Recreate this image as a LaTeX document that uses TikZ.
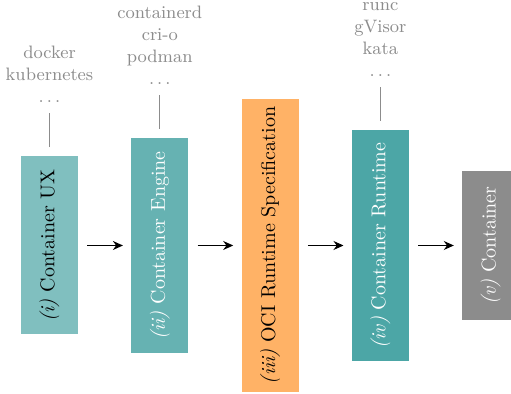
\documentclass[tikz,border=0pt]{standalone}
\usepackage{tikz}
\usepackage{graphicx}
\usetikzlibrary{positioning}
\usetikzlibrary{positioning, arrows.meta}

\tikzset{
    layer/.style={inner sep=0pt, minimum width=28.5pt, font=\normalsize},
    tools/.style={inner sep=0pt, align=center, text=black!45, font=\small},
    tie/.style={draw=black!45, semithick},
    flow/.style={-{Stealth[length=5pt, width=4.5pt]}, semithick, shorten <=4.5pt, shorten >=4pt}
}

\begin{document}
\begin{tikzpicture}[x=0.5pt, y=-0.5pt, node distance=26.25pt]
    \useasboundingbox (0,0) rectangle (511,394);

    % the five layers
    \node[layer, fill=teal!50, minimum height=89pt] (ux) at (49.5,245.5)
        {\rotatebox{90}{\textit{(i)} Container UX}};
    \node[layer, fill=teal!60, minimum height=107.5pt, text=white, right=of ux] (engine)
        {\rotatebox{90}{\textit{(ii)} Container Engine}};
    \node[layer, fill=orange!60, minimum height=146.5pt, right=of engine] (spec)
        {\rotatebox{90}{\textit{(iii)} OCI Runtime Specification}};
    \node[layer, fill=teal!70, minimum height=115.5pt, text=white, right=of spec] (runtime)
        {\rotatebox{90}{\textit{(iv)} Container Runtime}};
    \node[layer, fill=black!45, minimum height=74.5pt, text=white, right=of runtime] (container)
        {\rotatebox{90}{\textit{(v)} Container}};

    % examples above
    \node[tools, above=26.5pt of ux] (uxtools) {docker\\kubernetes\\$\ldots$};
    \node[tools, above=26.5pt of engine] (enginetools) {containerd\\cri-o\\podman\\$\ldots$};
    \node[tools, above=26.5pt of runtime] (runtimetools) {runc\\gVisor\\kata\\$\ldots$};

    \draw[tie] ([yshift=4.5pt]ux.north) -- ([yshift=-5pt]uxtools.south);
    \draw[tie] ([yshift=4.5pt]engine.north) -- ([yshift=-5pt]enginetools.south);
    \draw[tie] ([yshift=4.5pt]runtime.north) -- ([yshift=-5pt]runtimetools.south);

    % arrows
    \draw[flow] (ux) -- (engine);
    \draw[flow] (engine) -- (spec);
    \draw[flow] (spec) -- (runtime);
    \draw[flow] (runtime) -- (container);
\end{tikzpicture}
\end{document}
